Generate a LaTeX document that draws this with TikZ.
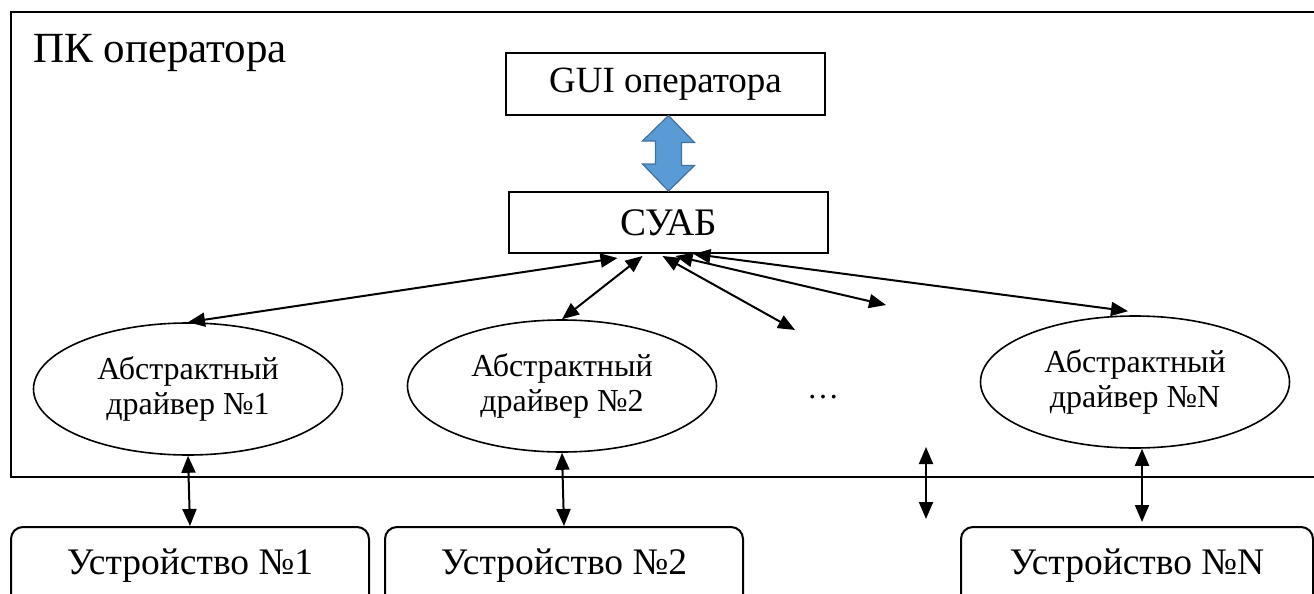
\documentclass[tikz,border=0pt]{standalone}
\usepackage{fontspec}
\setmainfont{Liberation Serif}
\usetikzlibrary{positioning,arrows.meta,calc,shapes.geometric}
\definecolor{cArr}{HTML}{5B9BD5}
\definecolor{cArrEdge}{HTML}{41719C}
\tikzset{
  blk/.style={draw, line width=2pt, minimum width=319pt, minimum height=61pt,
              inner sep=0pt, font=\fontsize{37}{44}\selectfont},
  drv/.style={draw, ellipse, line width=1.6pt, minimum width=309pt, minimum height=132pt,
              inner sep=0pt, align=center, font=\fontsize{32}{35}\selectfont,
              execute at begin node={\rule{0pt}{31pt}}},
  dev/.style={draw, line width=2pt, rounded corners=12pt, minimum width=358pt,
              text height=47pt, text depth=40pt, inner sep=0pt, anchor=north,
              font=\fontsize{37.5}{44}\selectfont},
  ar/.style={{Triangle[length=17pt,width=14pt]}-{Triangle[length=17pt,width=14pt]}, line width=2pt},
  bigar/.style={fill=cArr, draw=cArrEdge, line width=1.2pt, line join=miter}
}

\begin{document}
\begin{tikzpicture}[x=1pt, y=-1pt]
\useasboundingbox (0,0) rectangle (1314,594);
\clip (0,0) rectangle (1314,594);
% PC frame
\draw[line width=2.5pt] (11,12) rectangle (1340,477);
\node[anchor=base west, inner sep=0pt, font=\fontsize{43}{50}\selectfont] (pctitle) at (33,63) {ПК оператора};
% top blocks
\node[blk] (gui) at (665.5,84) {GUI оператора};
\node[blk, font=\fontsize{39}{44}\selectfont] (suab) at (668.5,222.5) {СУАБ};
\draw[bigar] (gui.south -| suab.north) -- ++(26,27) -- ++(-13,0) -- ++(0,23) -- ++(13,0)
  -- (suab.north) -- ++(-26,-27) -- ++(13,0) -- ++(0,-23) -- ++(-13,0) -- cycle;
% drivers
\node[drv] (d1) at (188,389) {Абстрактный\\драйвер №1};
\node[drv] (d2) at (562,386) {Абстрактный\\драйвер №2};
\node[drv] (dN) at (1135,382) {Абстрактный\\драйвер №N};
\node[anchor=base, inner sep=0pt, font=\fontsize{32}{35}\selectfont] (dots) at (823,398) {…};
\coordinate (free3) at (795,330);
\coordinate (free4) at (886,305);
\draw[ar] (d1.north) -- ($(suab.south)+(-51,4)$);
\draw[ar] (d2.north) -- ($(suab.south)+(-26,2)$);
\draw[ar] ($(suab.south)+(-6,2)$) -- (free3);
\draw[ar] ($(suab.south)+(7,2)$) -- (free4);
\draw[ar] ($(suab.south)+(25,0)$) -- ($(dN.north)+(-7,-4)$);
% devices
\node[dev] (dev1) at (190,526) {Устройство №1};
\node[dev] (dev2) at (564,526) {Устройство №2};
\node[dev, minimum width=352pt] (devN) at (1137,526) {Устройство №N};
\coordinate (c1) at (926,447);
\coordinate (c2) at (926,519);
\draw[ar] (d1.south) -- (dev1.north);
\draw[ar] (d2.south) -- (dev2.north);
\draw[ar] (c1) -- (c2);
\draw[ar] ($(dN.south)+(7,0)$) -- ($(devN.north)+(5,-4)$);
\end{tikzpicture}
\end{document}
